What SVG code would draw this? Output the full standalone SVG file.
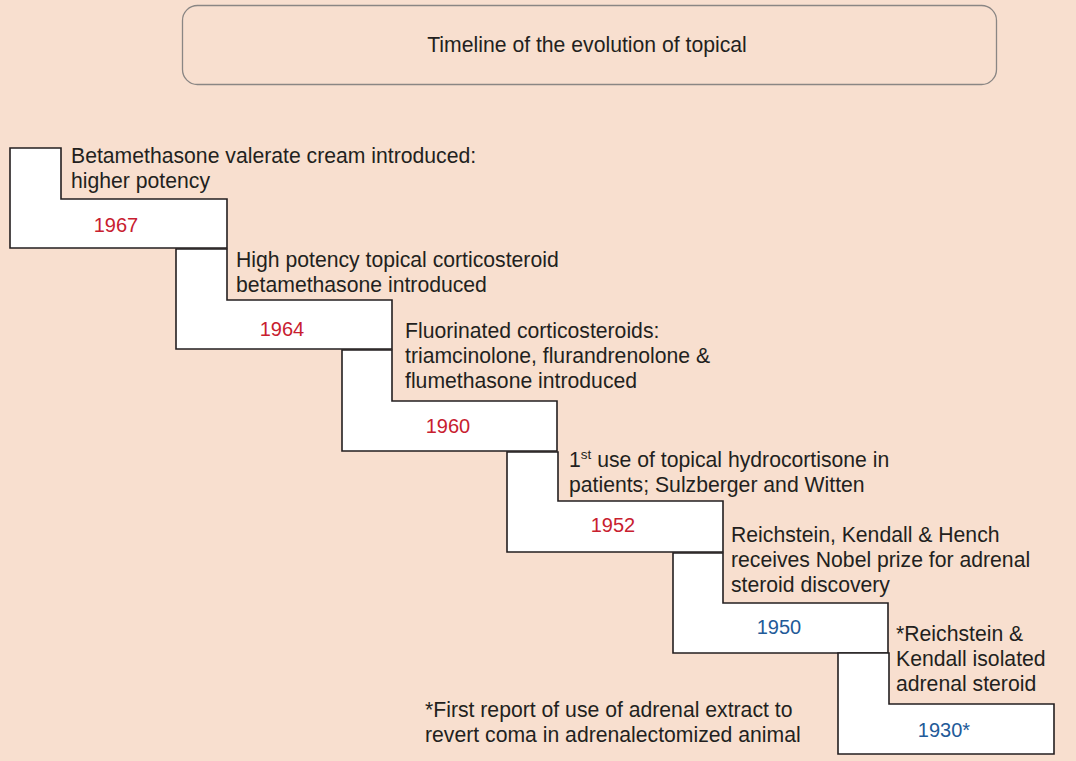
<svg xmlns="http://www.w3.org/2000/svg" width="1076" height="761" viewBox="0 0 1076 761">
<style>
.bg{fill:#f8dfcf}
.step{fill:#ffffff;stroke:#231f20;stroke-width:1.6;stroke-linejoin:miter}
.t{font-family:"Liberation Sans",Arial,sans-serif;font-size:21.2px;fill:#231f20}
.yr{font-family:"Liberation Sans",Arial,sans-serif;font-size:20px;text-anchor:middle}
.red{fill:#c8202f}
.blue{fill:#225a98}
.title{fill:#f8dfcf;stroke:#8a8684;stroke-width:1.3}
</style>
<rect class="bg" x="0" y="0" width="1076" height="761"/>
<g id="title">
<rect class="title" x="182.5" y="5.5" width="814" height="79" rx="15"/>
<text class="t" x="587" y="52" text-anchor="middle">Timeline of the evolution of topical</text>
</g>
<g id="step1967">
<polygon class="step" points="10,148 61,148 61,199 227,199 227,248 10,248"/>
<text class="yr red" x="116" y="232">1967</text>
<text class="t" x="71" y="163">Betamethasone valerate cream introduced:</text>
<text class="t" x="71" y="188">higher potency</text>
</g>
<g id="step1964">
<polygon class="step" points="176,249 227,249 227,300 392,300 392,349 176,349"/>
<text class="yr red" x="282" y="336">1964</text>
<text class="t" x="236" y="267">High potency topical corticosteroid</text>
<text class="t" x="236" y="292">betamethasone introduced</text>
</g>
<g id="step1960">
<polygon class="step" points="342,350 392,350 392,401 557,401 557,451 342,451"/>
<text class="yr red" x="448" y="433">1960</text>
<text class="t" x="405" y="338">Fluorinated corticosteroids:</text>
<text class="t" x="405" y="363">triamcinolone, flurandrenolone &amp;</text>
<text class="t" x="405" y="388">flumethasone introduced</text>
</g>
<g id="step1952">
<polygon class="step" points="507,452 558,452 558,501 723,501 723,552 507,552"/>
<text class="yr red" x="613" y="532">1952</text>
<text class="t" x="569" y="467">1<tspan font-size="13.5" dy="-8">st</tspan><tspan dy="8"> use of topical hydrocortisone in</tspan></text>
<text class="t" x="569" y="492">patients; Sulzberger and Witten</text>
</g>
<g id="step1950">
<polygon class="step" points="673,553 723,553 723,603 888,603 888,653 673,653"/>
<text class="yr blue" x="779" y="634">1950</text>
<text class="t" x="731" y="542">Reichstein, Kendall &amp; Hench</text>
<text class="t" x="731" y="567">receives Nobel prize for adrenal</text>
<text class="t" x="731" y="592">steroid discovery</text>
</g>
<g id="step1930">
<polygon class="step" points="838,653 889,653 889,704 1054,704 1054,754 838,754"/>
<text class="yr blue" x="944" y="737">1930*</text>
<text class="t" x="896" y="641">*Reichstein &amp;</text>
<text class="t" x="896" y="666">Kendall isolated</text>
<text class="t" x="896" y="691">adrenal steroid</text>
</g>
<g id="footnote">
<text class="t" x="425" y="717">*First report of use of adrenal extract to</text>
<text class="t" x="425" y="742">revert coma in adrenalectomized animal</text>
</g>
<g id="connectors"></g>
</svg>
